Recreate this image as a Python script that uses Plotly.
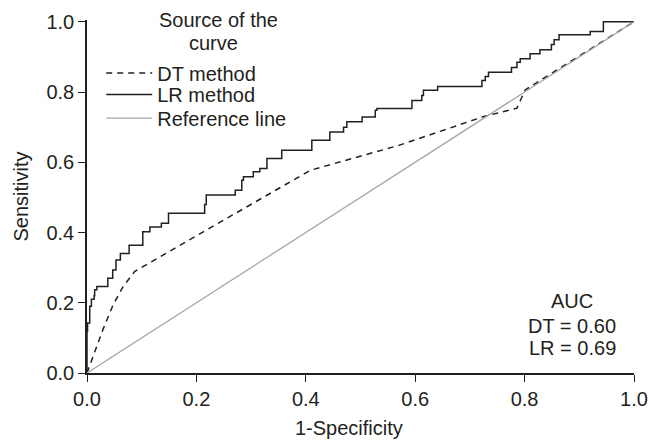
import plotly.graph_objects as go

# ---- data ----
lr_fpr = [0.0, 0.0, 0.001, 0.005, 0.008, 0.013, 0.014, 0.018, 0.038, 0.047, 0.053, 0.061,
          0.077, 0.102, 0.115, 0.136, 0.149, 0.215, 0.218, 0.271, 0.283, 0.286, 0.304,
          0.316, 0.329, 0.356, 0.411, 0.444, 0.469, 0.475, 0.503, 0.527, 0.530, 0.594,
          0.612, 0.615, 0.641, 0.722, 0.728, 0.734, 0.776, 0.786, 0.792, 0.810, 0.828,
          0.849, 0.854, 0.863, 0.920, 0.944, 1.0]
lr_tpr = [0.0, 0.118, 0.142, 0.190, 0.210, 0.220, 0.237, 0.246, 0.270, 0.293, 0.322, 0.340,
          0.364, 0.402, 0.416, 0.426, 0.4545, 0.480, 0.507, 0.520, 0.549, 0.559, 0.573,
          0.582, 0.611, 0.634, 0.663, 0.686, 0.700, 0.715, 0.729, 0.748, 0.753, 0.776,
          0.790, 0.805, 0.816, 0.833, 0.844, 0.856, 0.870, 0.885, 0.895, 0.909, 0.920,
          0.935, 0.949, 0.963, 0.972, 1.0, 1.0]

dt_fpr = [0.0, 0.011, 0.029, 0.048, 0.066, 0.087, 0.408, 0.570, 0.725, 0.786, 0.801, 1.0]
dt_tpr = [0.0, 0.047, 0.123, 0.195, 0.246, 0.289, 0.577, 0.648, 0.730, 0.754, 0.806, 1.0]

ref_x = [0.0, 1.0]
ref_y = [0.0, 1.0]

tick_vals = [0.0, 0.2, 0.4, 0.6, 0.8, 1.0]
tick_text = ["0.0", "0.2", "0.4", "0.6", "0.8", "1.0"]

auc_lines = ["AUC", "DT = 0.60", "LR = 0.69"]
legend_title_lines = ["Source of the", "curve"]

FONT = "Arial, Liberation Sans, sans-serif"
TXT = "#231f20"

fig = go.Figure()
fig.add_trace(go.Scatter(x=dt_fpr, y=dt_tpr, mode="lines", name="DT method",
                         line=dict(color="#231f20", width=1.5, dash="6px,5px"),
                         legend="legend"))
fig.add_trace(go.Scatter(x=lr_fpr, y=lr_tpr, mode="lines", name="LR method",
                         line=dict(color="#231f20", width=1.5, shape="hv"),
                         legend="legend2"))
fig.add_trace(go.Scatter(x=ref_x, y=ref_y, mode="lines", name="Reference line",
                         line=dict(color="#a6a6a6", width=1.3),
                         legend="legend3"))

leg_common = dict(font=dict(family=FONT, size=20, color=TXT), bgcolor="rgba(0,0,0,0)",
                  xanchor="left", yanchor="middle", itemwidth=46)

for i, t in enumerate(auc_lines):
    fig.add_annotation(x=0.887, y=[0.204, 0.135, 0.071][i], xref="x", yref="y",
                       text=t, showarrow=False, xanchor="center", yanchor="middle",
                       font=dict(family=FONT, size=20, color=TXT))
for i, t in enumerate(legend_title_lines):
    fig.add_annotation(x=[0.24, 0.232][i], y=[0.999, 0.934][i], xref="paper", yref="paper",
                       text=t, showarrow=False, xanchor="center", yanchor="middle",
                       font=dict(family=FONT, size=20, color=TXT))

fig.add_annotation(x=0.4786, y=-0.157, xref="paper", yref="paper", text="1-Specificity",
                   showarrow=False, xanchor="center", yanchor="middle",
                   font=dict(family=FONT, size=20, color=TXT))

axis_common = dict(showgrid=False, zeroline=False, showline=True, linecolor="#231f20",
                   linewidth=1.5, ticks="outside", ticklen=7, tickwidth=1.2,
                   tickcolor="#231f20", tickvals=tick_vals, ticktext=tick_text,
                   automargin=False,
                   tickfont=dict(family=FONT, size=20, color=TXT))

fig.update_layout(
    width=649, height=440,
    margin=dict(l=87, r=15, t=20, b=67),
    paper_bgcolor="white", plot_bgcolor="white",
    showlegend=True,
    legend=dict(x=0.026, y=0.850, **leg_common),
    legend2=dict(x=0.026, y=0.789, **leg_common),
    legend3=dict(x=0.026, y=0.722, **leg_common),
    xaxis=dict(range=[0, 1], **axis_common),
    yaxis=dict(range=[0, 1.005], title=dict(text="Sensitivity", standoff=12,
               font=dict(family=FONT, size=20, color=TXT)), **axis_common),
)

fig.write_html("out.html", config={"displayModeBar": False},
               post_script="document.body.style.margin='0px';")
